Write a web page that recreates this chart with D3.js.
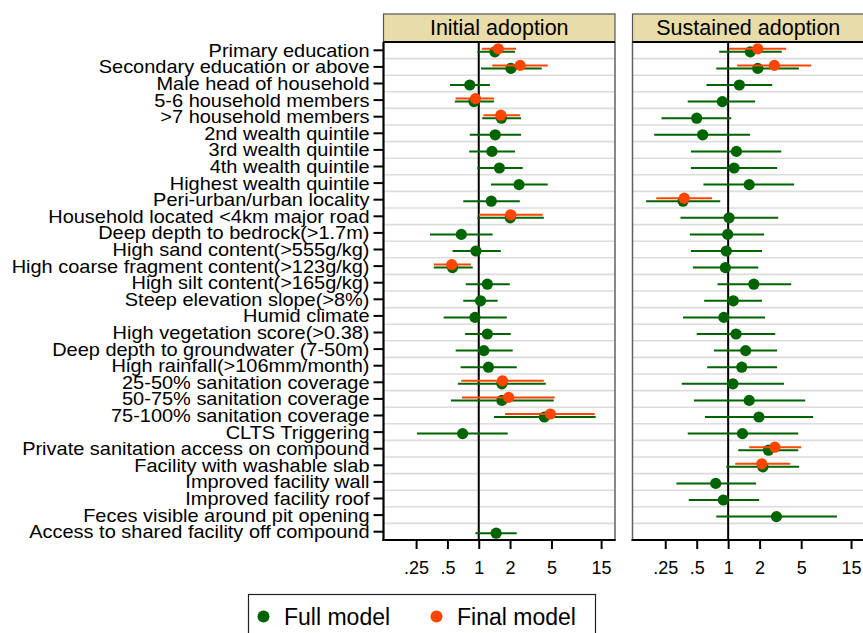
<!DOCTYPE html>
<html><head><meta charset="utf-8">
<script src="https://cdn.jsdelivr.net/npm/d3@7/dist/d3.min.js"></script>
<style>html,body{margin:0;padding:0;background:#fff;overflow:hidden}svg{display:block;font-family:"Liberation Sans",Arial,sans-serif}</style>
</head><body>
<script>
const categories = ["Primary education","Secondary education or above","Male head of household","5-6 household members",">7 household members","2nd wealth quintile","3rd wealth quintile","4th wealth quintile","Highest wealth quintile","Peri-urban/urban locality","Household located <4km major road","Deep depth to bedrock(>1.7m)","High sand content(>555g/kg)","High coarse fragment content(>123g/kg)","High silt content(>165g/kg)","Steep elevation slope(>8%)","Humid climate","High vegetation score(>0.38)","Deep depth to groundwater (7-50m)","High rainfall(>106mm/month)","25-50% sanitation coverage","50-75% sanitation coverage","75-100% sanitation coverage","CLTS Triggering","Private sanitation access on compound","Facility with washable slab","Improved facility wall","Improved facility roof","Feces visible around pit opening","Access to shared facility off compound"];
const panels = ["Initial adoption","Sustained adoption"];
const seriesNames = ["Full model","Final model"];
const tickValues = [0.25,0.5,1,2,5,15];
const tickLabels = [".25",".5","1","2","5","15"];

const N = null;
// Initial adoption – full model
const initFullEst = [1.43,2.04,0.82,0.90,1.65,1.44,1.34,1.58,2.44,1.32,2.01,0.68,0.94,0.56,1.21,1.04,0.92,1.21,1.12,1.24,1.67,1.67,4.27,0.70,N,N,N,N,N,1.47];
const initFullLo  = [0.97,1.05,0.53,0.59,1.08,0.82,0.81,0.97,1.31,0.71,0.97,0.34,0.56,0.37,0.75,0.71,0.46,0.74,0.60,0.67,0.63,0.54,1.40,0.255,N,N,N,N,N,0.93];
const initFullHi  = [2.23,4.03,1.28,1.40,2.55,2.55,2.23,2.65,4.6,2.48,4.22,1.36,1.63,0.875,1.99,1.52,1.86,2.03,2.12,2.32,4.41,5.26,13.3,1.90,N,N,N,N,N,2.32];
// Initial adoption – final model
const initFinalEst = [1.54,2.5,N,0.93,1.63,N,N,N,N,N,2.03,N,N,0.55,N,N,N,N,N,N,1.69,1.94,4.88,N,N,N,N,N,N,N];
const initFinalLo  = [1.07,1.35,N,0.60,1.11,N,N,N,N,N,1.0,N,N,0.37,N,N,N,N,N,N,0.68,0.69,1.79,N,N,N,N,N,N,N];
const initFinalHi  = [2.28,4.6,N,1.40,2.5,N,N,N,N,N,4.12,N,N,0.84,N,N,N,N,N,N,4.22,5.38,13.0,N,N,N,N,N,N,N];
// Sustained adoption – full model
const sustFullEst = [1.63,1.92,1.28,0.88,0.50,0.57,1.20,1.14,1.59,0.37,1.02,0.99,0.96,0.94,1.76,1.12,0.91,1.19,1.47,1.35,1.11,1.59,1.97,1.37,2.43,2.15,0.76,0.90,2.90,N];
const sustFullLo  = [0.82,0.77,0.62,0.41,0.23,0.196,0.44,0.44,0.58,0.164,0.35,0.43,0.44,0.46,0.79,0.59,0.37,0.50,0.73,0.63,0.36,0.47,0.60,0.41,1.25,0.96,0.32,0.42,0.77,N];
const sustFullHi  = [3.26,4.75,2.64,1.81,1.07,1.62,3.22,2.94,4.28,0.84,3.01,2.21,2.11,1.94,4.01,2.11,2.26,2.82,2.94,2.94,3.43,5.46,6.5,4.68,4.68,4.78,1.85,1.98,11.0,N];
// Sustained adoption – final model
const sustFinalEst = [1.92,2.77,N,N,N,N,N,N,N,0.38,N,N,N,N,N,N,N,N,N,N,N,N,N,N,2.80,2.1,N,N,N,N];
const sustFinalLo  = [1.02,1.22,N,N,N,N,N,N,N,0.205,N,N,N,N,N,N,N,N,N,N,N,N,N,N,1.59,1.17,N,N,N,N];
const sustFinalHi  = [3.59,6.23,N,N,N,N,N,N,N,0.70,N,N,N,N,N,N,N,N,N,N,N,N,N,N,5.0,3.92,N,N,N,N];

const W = 863, H = 633;
const svg = d3.select("body").append("svg").attr("width", W).attr("height", H);

const plotTop = 42, plotBottom = 540, stripTop = 14;
const panelX = [[383.5, 615], [632.5, 865]];
const colors = {full: "#006400", final: "#ff4500"};

const y = d3.scaleBand().domain(categories).range([plotTop, plotBottom]);
const yc = c => y(c) + y.bandwidth() / 2;

const panelData = [
  [{est: initFullEst, lo: initFullLo, hi: initFullHi, color: colors.full, dy: 1.5},
   {est: initFinalEst, lo: initFinalLo, hi: initFinalHi, color: colors.final, dy: -1.5}],
  [{est: sustFullEst, lo: sustFullLo, hi: sustFullHi, color: colors.full, dy: 1.5},
   {est: sustFinalEst, lo: sustFinalLo, hi: sustFinalHi, color: colors.final, dy: -1.5}]
];

panels.forEach((title, p) => {
  const [x0, x1] = panelX[p];
  const x = d3.scaleLog().domain([0.1215, 20.4]).range([x0, x1]);
  const g = svg.append("g");

  // gridlines between rows
  g.selectAll("line.grid").data(categories.slice(1)).join("line")
    .attr("x1", x0).attr("x2", x1)
    .attr("y1", d => y(d)).attr("y2", d => y(d))
    .attr("stroke", "#dcdcdc").attr("stroke-width", 1.6);

  // panel side borders
  g.append("line").attr("x1", x1).attr("x2", x1).attr("y1", plotTop).attr("y2", plotBottom)
    .attr("stroke", "#606060").attr("stroke-width", 1.5);
  if (p === 1) {
    g.append("line").attr("x1", x0).attr("x2", x0).attr("y1", plotTop).attr("y2", plotBottom)
      .attr("stroke", "#606060").attr("stroke-width", 1.5);
  }

  // reference line at 1
  g.append("line").attr("x1", x(1)).attr("x2", x(1)).attr("y1", plotTop).attr("y2", plotBottom)
    .attr("stroke", "#000").attr("stroke-width", 2);

  // series
  panelData[p].forEach(s => {
    const rows = categories.map((c, i) => ({c, est: s.est[i], lo: s.lo[i], hi: s.hi[i]})).filter(d => d.est != null);
    g.selectAll(null).data(rows).join("line")
      .attr("x1", d => x(d.lo)).attr("x2", d => x(d.hi))
      .attr("y1", d => yc(d.c) + s.dy).attr("y2", d => yc(d.c) + s.dy)
      .attr("stroke", s.color).attr("stroke-width", 2);
    g.selectAll(null).data(rows).join("circle")
      .attr("cx", d => x(d.est)).attr("cy", d => yc(d.c) + s.dy)
      .attr("r", 5.6).attr("fill", s.color);
  });

  // x axis
  const xa = g.append("g").attr("transform", `translate(0,${plotBottom})`)
    .call(d3.axisBottom(x).tickValues(tickValues).tickFormat((d, i) => tickLabels[i]).tickSize(9).tickPadding(12));
  xa.select(".domain").remove();
  xa.selectAll(".tick line").attr("stroke", "#000").attr("stroke-width", 2);
  xa.selectAll(".tick text").attr("font-size", 18).attr("fill", "#000")
    .attr("font-family", '"Liberation Sans",Arial,sans-serif');
  g.append("line").attr("x1", x0 - 1).attr("x2", x1 + 0.75).attr("y1", plotBottom).attr("y2", plotBottom)
    .attr("stroke", "#000").attr("stroke-width", 2);

  // strip header
  g.append("rect").attr("x", x0).attr("y", stripTop).attr("width", x1 - x0).attr("height", plotTop - stripTop)
    .attr("fill", "#e8dca8").attr("stroke", "#555").attr("stroke-width", 1.2);
  g.append("line").attr("x1", x0).attr("x2", x1).attr("y1", plotTop).attr("y2", plotTop)
    .attr("stroke", "#000").attr("stroke-width", 2);
  g.append("text").attr("x", (x0 + Math.min(x1, 862)) / 2 + (p === 1 ? 1 : 0)).attr("y", 34.5)
    .attr("text-anchor", "middle").attr("font-size", 21.5).attr("fill", "#000").text(title);

  // y axis on first panel
  if (p === 0) {
    const sx = 1.11;
    const ya = g.append("g").attr("transform", `translate(${x0},0)`)
      .call(d3.axisLeft(y).tickSize(10).tickPadding(4));
    ya.select(".domain").remove();
    ya.selectAll(".tick line").attr("stroke", "#000").attr("stroke-width", 2);
    ya.selectAll(".tick text").attr("font-size", 18).attr("fill", "#000")
      .attr("font-family", '"Liberation Sans",Arial,sans-serif').attr("dy", "0.36em")
      .attr("x", -14 / sx).attr("transform", `scale(${sx},1)`);
    g.append("line").attr("x1", x0).attr("x2", x0).attr("y1", plotTop).attr("y2", plotBottom + 1)
      .attr("stroke", "#000").attr("stroke-width", 2.2);
  }
});

// legend
const lg = svg.append("g");
lg.append("rect").attr("x", 248.5).attr("y", 594.5).attr("width", 347).attr("height", 60)
  .attr("fill", "#fff").attr("stroke", "#222").attr("stroke-width", 1.2);
const legendItems = [{name: seriesNames[0], color: colors.full, cx: 263.5, tx: 284},
                     {name: seriesNames[1], color: colors.final, cx: 436.5, tx: 457}];
legendItems.forEach(d => {
  lg.append("circle").attr("cx", d.cx).attr("cy", 616.5).attr("r", 6).attr("fill", d.color);
  lg.append("text").attr("x", d.tx).attr("y", 625).attr("font-size", 23).attr("fill", "#000").text(d.name);
});
</script>
</body></html>
